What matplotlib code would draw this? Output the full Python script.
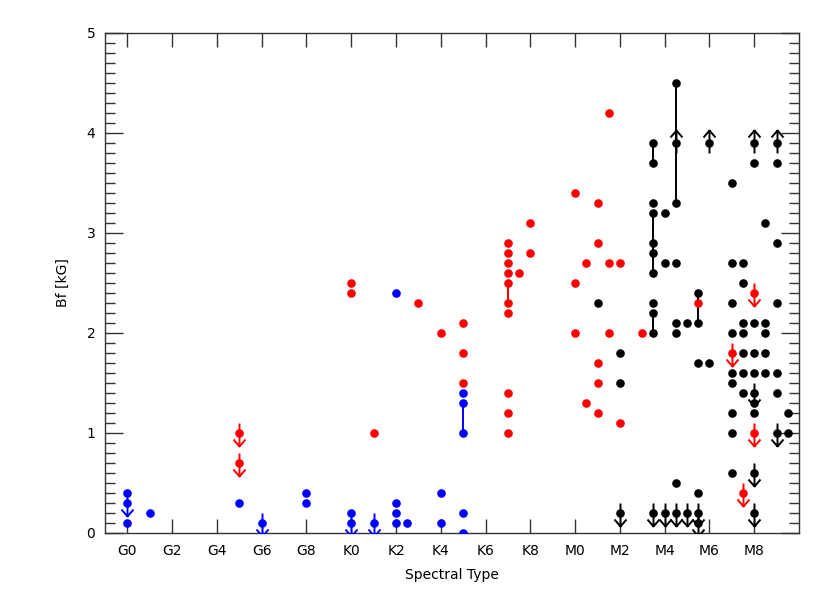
import numpy as np
import matplotlib
matplotlib.use("Agg")
import matplotlib.pyplot as plt
from matplotlib.path import Path
from matplotlib.ticker import MultipleLocator

# Spectral type index: G0=0 ... G9=9, K0=10 ... K9=19, M0=20 ... M9=29
tick_pos = [0, 2, 4, 6, 8, 10, 12, 14, 16, 18, 20, 22, 24, 26, 28]
tick_labels = ["G0", "G2", "G4", "G6", "G8", "K0", "K2", "K4", "K6", "K8",
               "M0", "M2", "M4", "M6", "M8"]

# limit flag: 0 = measurement, -1 = upper limit, +1 = lower limit
blue_sp = [0, 0, 0, 1, 5, 6, 8, 8, 10, 10, 11, 12, 12, 12, 12, 12.5, 14, 14,
           15, 15, 15, 15, 15]
blue_bf = [0.4, 0.3, 0.1, 0.2, 0.3, 0.1, 0.4, 0.3, 0.2, 0.1, 0.1, 2.4, 0.3, 0.2,
           0.1, 0.1, 0.4, 0.1, 1.4, 1.3, 1.0, 0.2, 0.0]
blue_lim = [0, -1, 0, 0, 0, -1, 0, 0, 0, -1, -1, 0, 0, 0, 0, 0, 0, 0,
            0, 0, 0, 0, 0]

red_sp = [5, 5, 10, 10, 11, 13, 14, 15, 15, 15,
          17, 17, 17, 17, 17, 17, 17, 17, 17, 17, 17.5,
          18, 18, 20, 20, 20, 20.5, 20.5, 21, 21, 21, 21, 21,
          21.5, 21.5, 21.5, 22, 22, 23, 25.5, 27, 27.5, 28, 28]
red_bf = [1.0, 0.7, 2.5, 2.4, 1.0, 2.3, 2.0, 2.1, 1.8, 1.5,
          2.9, 2.8, 2.7, 2.6, 2.5, 2.3, 2.2, 1.4, 1.2, 1.0, 2.6,
          3.1, 2.8, 3.4, 2.5, 2.0, 2.7, 1.3, 3.3, 2.9, 1.7, 1.5, 1.2,
          4.2, 2.7, 2.0, 2.7, 1.1, 2.0, 2.3, 1.8, 0.4, 2.4, 1.0]
red_lim = [-1, -1, 0, 0, 0, 0, 0, 0, 0, 0,
           0, 0, 0, 0, 0, 0, 0, 0, 0, 0, 0,
           0, 0, 0, 0, 0, 0, 0, 0, 0, 0, 0, 0,
           0, 0, 0, 0, 0, 0, 0, -1, -1, -1, -1]

black_sp = [21, 22, 22, 22,
            23.5, 23.5, 23.5, 23.5, 23.5, 23.5, 23.5, 23.5, 23.5, 23.5, 23.5,
            24, 24, 24,
            24.5, 24.5, 24.5, 24.5, 24.5, 24.5, 24.5, 24.5,
            25, 25,
            25.5, 25.5, 25.5, 25.5, 25.5, 25.5,
            26, 26,
            27, 27, 27, 27, 27, 27, 27, 27, 27,
            27.5, 27.5, 27.5, 27.5, 27.5, 27.5, 27.5,
            28, 28, 28, 28, 28, 28, 28, 28, 28, 28,
            28.5, 28.5, 28.5, 28.5, 28.5,
            29, 29, 29, 29, 29, 29, 29,
            29.5, 29.5]
black_bf = [2.3, 1.8, 1.5, 0.2,
            3.9, 3.7, 3.3, 3.2, 2.9, 2.8, 2.6, 2.3, 2.2, 2.0, 0.2,
            3.2, 2.7, 0.2,
            4.5, 3.9, 3.3, 2.7, 2.1, 2.0, 0.5, 0.2,
            2.1, 0.2,
            2.4, 2.1, 1.7, 0.4, 0.2, 0.1,
            3.9, 1.7,
            3.5, 2.7, 2.3, 2.0, 1.6, 1.5, 1.2, 1.0, 0.6,
            2.7, 2.5, 2.1, 2.0, 1.8, 1.6, 1.4,
            3.9, 3.7, 2.1, 1.8, 1.6, 1.4, 1.3, 1.2, 0.6, 0.2,
            3.1, 2.1, 2.0, 1.8, 1.6,
            3.9, 3.7, 2.9, 2.3, 1.6, 1.4, 1.0,
            1.2, 1.0]
black_lim = [0, 0, 0, -1,
             0, 0, 0, 0, 0, 0, 0, 0, 0, 0, -1,
             0, 0, -1,
             0, 1, 0, 0, 0, 0, 0, -1,
             0, -1,
             0, 0, 0, 0, -1, -1,
             1, 0,
             0, 0, 0, 0, 0, 0, 0, 0, 0,
             0, 0, 0, 0, 0, 0, 0,
             1, 0, 0, 0, 0, -1, 0, 0, -1, -1,
             0, 0, 0, 0, 0,
             1, 0, 0, 0, 0, 0, -1,
             0, 0]

# vertical ranges connecting values of the same star: (sp, low, high)
blue_links = [(15, 1.0, 1.3)]
red_links = [(17, 2.3, 2.5)]
black_links = [(23.5, 3.7, 3.9), (23.5, 2.6, 3.2), (23.5, 2.0, 2.2),
               (24.5, 3.3, 4.5), (25.5, 2.1, 2.4)]

# arrow markers (pixel-like units, normalised by matplotlib)
down_arrow = Path([(0, 10), (0, -13), (-6, -6), (0, -13), (6, -6)],
                  [Path.MOVETO, Path.LINETO, Path.MOVETO, Path.LINETO, Path.LINETO])
up_arrow = Path([(0, -10), (0, 13), (-6, 6), (0, 13), (6, 6)],
                [Path.MOVETO, Path.LINETO, Path.MOVETO, Path.LINETO, Path.LINETO])

fig = plt.figure(figsize=(8.3, 6.0), dpi=100)
ax = fig.add_axes([105 / 830, 67 / 600, 694 / 830, 500 / 600])

arrow_ms = 26 * 72 / 100
dot_ms = 8.6 * 72 / 100

groups = [
    ("#0000ff", blue_sp, blue_bf, blue_lim, blue_links),
    ("#ff0000", red_sp, red_bf, red_lim, red_links),
    ("#000000", black_sp, black_bf, black_lim, black_links),
]
for color, sp, bf, lim, links in groups:
    sp = np.asarray(sp, float)
    bf = np.asarray(bf, float)
    lim = np.asarray(lim)
    for x, lo, hi in links:
        ax.vlines(x, lo, hi, color=color, lw=1.4, zorder=2)
    dn = lim == -1
    up = lim == 1
    ax.plot(sp[dn], bf[dn], ls="none", marker=down_arrow, ms=arrow_ms,
            mfc="none", mec=color, mew=1.4, zorder=3)
    ax.plot(sp[up], bf[up], ls="none", marker=up_arrow, ms=arrow_ms,
            mfc="none", mec=color, mew=1.4, zorder=3)
    ax.plot(sp, bf, ls="none", marker="o", ms=dot_ms, mfc=color, mec=color,
            mew=0, zorder=4)

ax.set_xlim(-1, 30)
ax.set_ylim(0, 5)
ax.set_xticks(tick_pos)
ax.set_xticklabels(tick_labels)
ax.set_yticks([0, 1, 2, 3, 4, 5])
ax.yaxis.set_minor_locator(MultipleLocator(0.1))
ax.tick_params(axis="x", which="major", direction="in", length=10, width=1,
               top=True, bottom=True, labelsize=10, pad=8, colors="#333333",
               labelcolor="black")
ax.tick_params(axis="y", which="major", direction="in", length=13, width=1,
               left=True, right=True, labelsize=10, pad=7, colors="#333333",
               labelcolor="black")
ax.tick_params(axis="y", which="minor", direction="in", length=7, width=1,
               left=True, right=True, colors="#333333")
for s in ax.spines.values():
    s.set_linewidth(1.0)
    s.set_color("#333333")

ax.set_xlabel("Spectral Type", fontsize=10, labelpad=7)
ax.set_ylabel("Bf [kG]", fontsize=10, labelpad=12)

fig.savefig("out.png", dpi=100)
